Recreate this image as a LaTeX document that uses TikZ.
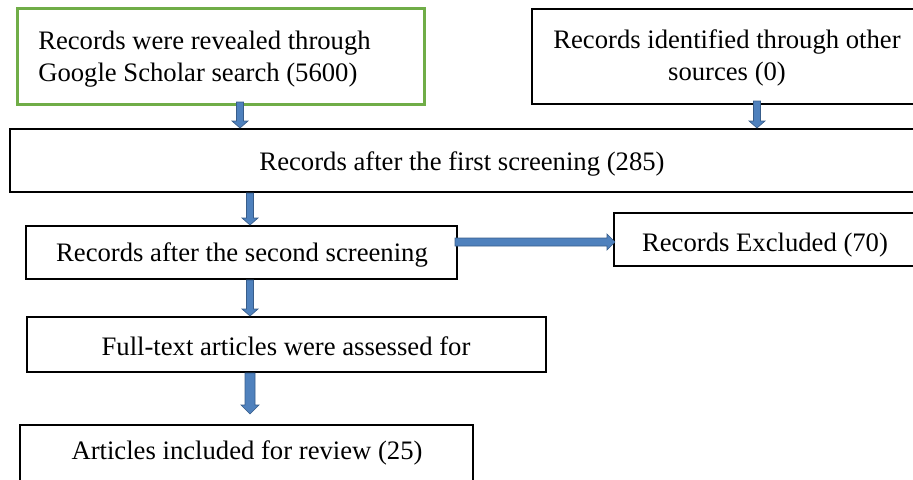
\documentclass[tikz,border=0pt]{standalone}
\usepackage{fontspec}
\setmainfont{Liberation Serif}
\usetikzlibrary{calc}
\definecolor{boxgreen}{RGB}{112,173,71}
\definecolor{arrfill}{RGB}{79,129,189}
\definecolor{arrline}{RGB}{56,93,138}
\tikzset{
  box/.style={draw=black, line width=1.5pt, rectangle, inner sep=0pt},
  gbox/.style={box, draw=boxgreen, line width=2.25pt},
  txt/.style={inner sep=0pt, align=center, font=\fontsize{20}{24}\selectfont},
  blk/.style={fill=arrfill, draw=arrline, line width=0.5pt, line join=miter},
}
% vertical block arrow: start, end, half shaft, half head, head length
\newcommand\blkdown[5]{%
  \filldraw[blk] let \p1=(#1), \p2=(#2) in
  (\x1-#3,\y1) -- (\x1-#3,\y2+#5) -- (\x1-#4,\y2+#5) -- (\x1,\y2) -- (\x1+#4,\y2+#5) -- (\x1+#3,\y2+#5) -- (\x1+#3,\y1) -- cycle;}
% horizontal block arrow
\newcommand\blkright[5]{%
  \filldraw[blk] let \p1=(#1), \p2=(#2) in
  (\x1,\y1+#3) -- (\x2-#5,\y1+#3) -- (\x2-#5,\y1+#4) -- (\x2,\y1) -- (\x2-#5,\y1-#4) -- (\x2-#5,\y1-#3) -- (\x1,\y1-#3) -- cycle;}
\begin{document}
\begin{tikzpicture}[x=0.75pt,y=-0.75pt]
\useasboundingbox (0,0) rectangle (913,479);
% boxes
\node[gbox, minimum width=305.6pt, minimum height=72pt] (b1) at (221,56.5) {};
\node[txt, anchor=west, align=left] (t1) at (38,59) {Records were revealed through\\Google Scholar search (5600)};
\node[box, minimum width=292.5pt, minimum height=71.25pt] (b2) at (727,56.5) {};
\node[txt] (t2) at (727,58) {Records identified through other\\sources (0)};
\node[box, minimum width=682.5pt, minimum height=47.25pt] (b3) at (465,160.5) {};
\node[txt] (t3) at (462,163.5) {Records after the first screening (285)};
\node[box, minimum width=323.25pt, minimum height=39.75pt] (b4) at (241.5,252.5) {};
\node[txt] (t4) at (242,255) {Records after the second screening};
\node[box, minimum width=229.5pt, minimum height=39.75pt] (b5) at (767,239.5) {};
\node[txt] (t5) at (765,245.5) {Records Excluded (70)};
\node[box, minimum width=389.25pt, minimum height=41.25pt] (b6) at (286.5,344.5) {};
\node[txt] (t6) at (286,346) {Full-text articles were assessed for};
\node[box, minimum width=339.75pt, minimum height=52.5pt] (b7) at (246.5,460) {};
\node[txt] (t7) at (247,453) {Articles included for review (25)};
% arrow axes
\coordinate (x1) at (240,0);
\coordinate (x2) at (757,0);
\coordinate (x3) at (250,0);
\coordinate (y4) at (0,242);
% arrows
\blkdown{$(b1.south -| x1)+(0,-4)$}{b3.north -| x1}{2.6pt}{6pt}{5.25pt}
\blkdown{$(b2.south -| x2)+(0,-4)$}{b3.north -| x2}{2.6pt}{6pt}{5.25pt}
\blkdown{b3.south -| x3}{b4.north -| x3}{2.6pt}{6pt}{5.25pt}
\blkdown{b4.south -| x3}{b6.north -| x3}{2.6pt}{6pt}{5.25pt}
\blkdown{b6.south -| x3}{$(b7.north -| x3)+(0,-10)$}{3.75pt}{6.75pt}{6.75pt}
\blkright{$(b4.east |- y4)+(-3,0)$}{$(b5.west |- y4)+(2,0)$}{3pt}{6pt}{6pt}
\end{tikzpicture}
\end{document}
